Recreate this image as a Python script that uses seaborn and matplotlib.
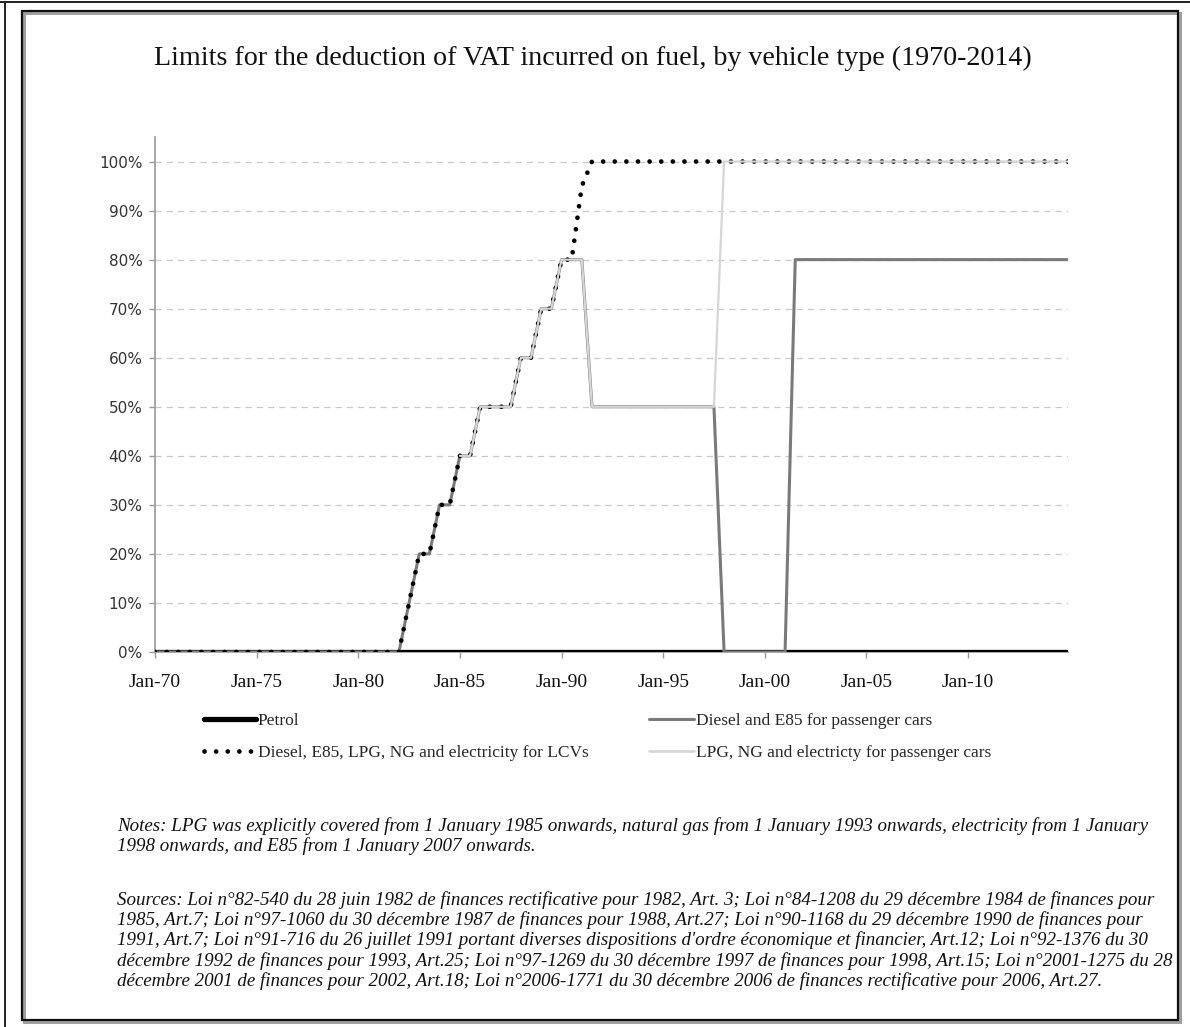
import matplotlib
matplotlib.use("Agg")
import matplotlib.pyplot as plt
import seaborn as sns
import pandas as pd
from matplotlib.ticker import FixedLocator, PercentFormatter
from matplotlib.lines import Line2D
from matplotlib.patches import Rectangle

# ---- data: semi-annual breakpoints (decimal years) and deductible share of VAT (%) ----
petrol_years = [1970.0, 2014.92]
petrol_share = [0, 0]

lcv_years = [1970.0, 1982.0, 1982.5, 1983.0, 1983.5, 1984.0, 1984.5, 1985.0, 1985.5,
             1986.0, 1987.5, 1988.0, 1988.5, 1989.0, 1989.5, 1990.0, 1990.5, 1991.0,
             1991.5, 2014.92]
lcv_share = [0, 0, 10, 20, 20, 30, 30, 40, 40,
             50, 50, 60, 60, 70, 70, 80, 80, 95,
             100, 100]

diesel_pc_years = [1970.0, 1982.0, 1982.5, 1983.0, 1983.5, 1984.0, 1984.5, 1985.0, 1985.5,
                   1986.0, 1987.5, 1988.0, 1988.5, 1989.0, 1989.5, 1990.0, 1991.0, 1991.5,
                   1997.5, 1998.0, 2001.0, 2001.5, 2014.92]
diesel_pc_share = [0, 0, 10, 20, 20, 30, 30, 40, 40,
                   50, 50, 60, 60, 70, 70, 80, 80, 50,
                   50, 0, 0, 80, 80]

lpg_pc_years = [1985.0, 1985.5, 1986.0, 1987.5, 1988.0, 1988.5, 1989.0, 1989.5, 1990.0,
                1991.0, 1991.5, 1997.5, 1998.0, 2014.92]
lpg_pc_share = [40, 40, 50, 50, 60, 60, 70, 70, 80,
                80, 50, 50, 100, 100]

x_tick_years = [1970, 1975, 1980, 1985, 1990, 1995, 2000, 2005, 2010]
x_tick_labels = ["Jan-70", "Jan-75", "Jan-80", "Jan-85", "Jan-90",
                 "Jan-95", "Jan-00", "Jan-05", "Jan-10"]
y_ticks = [0, 10, 20, 30, 40, 50, 60, 70, 80, 90, 100]

series_names = ["Petrol",
                "Diesel, E85, LPG, NG and electricity for LCVs",
                "Diesel and E85 for passenger cars",
                "LPG, NG and electricty for passenger cars"]

title = "Limits for the deduction of VAT incurred on fuel, by vehicle type (1970-2014)"

notes_lines = [
    "Notes: LPG was explicitly covered from 1 January 1985 onwards, natural gas from 1 January 1993 onwards, electricity from 1 January",
    "1998 onwards, and E85 from 1 January 2007 onwards.",
]
sources_lines = [
    "Sources: Loi n°82-540 du 28 juin 1982 de finances rectificative pour 1982, Art. 3; Loi n°84-1208 du 29 décembre 1984 de finances pour",
    "1985, Art.7; Loi n°97-1060 du 30 décembre 1987 de finances pour 1988, Art.27; Loi n°90-1168 du 29 décembre 1990 de finances pour",
    "1991, Art.7; Loi n°91-716 du 26 juillet 1991 portant diverses dispositions d'ordre économique et financier, Art.12; Loi n°92-1376 du 30",
    "décembre 1992 de finances pour 1993, Art.25; Loi n°97-1269 du 30 décembre 1997 de finances pour 1998, Art.15; Loi n°2001-1275 du 28",
    "décembre 2001 de finances pour 2002, Art.18; Loi n°2006-1771 du 30 décembre 2006 de finances rectificative pour 2006, Art.27.",
]

# ---- styling ----
sns.set_theme(style="white")
plt.rcParams["font.family"] = ["Liberation Serif", "DejaVu Serif"]

W, H = 1190, 1027
fig = plt.figure(figsize=(W / 100, H / 100), dpi=100)


def fx(px):
    return px / W


def fy(py):
    return 1 - py / H


ax = fig.add_axes([fx(155), fy(652), fx(1068) - fx(155), fy(137) - fy(652)])

BLACK = "#000000"
DARK_GREY = "#7a7a7a"
LIGHT_GREY = "#d6d6d6"
DOT_PATTERN = (0.01, 2.45)

petrol_df = pd.DataFrame({"year": petrol_years, "share": petrol_share})
diesel_df = pd.DataFrame({"year": diesel_pc_years, "share": diesel_pc_share})
lcv_df = pd.DataFrame({"year": lcv_years, "share": lcv_share})
lpg_df = pd.DataFrame({"year": lpg_pc_years, "share": lpg_pc_share})

sns.lineplot(data=petrol_df, x="year", y="share", ax=ax, color=BLACK, linewidth=3.8,
             estimator=None, sort=False, zorder=3, solid_capstyle="round")
sns.lineplot(data=diesel_df, x="year", y="share", ax=ax, color=DARK_GREY, linewidth=2.2,
             estimator=None, sort=False, zorder=4)
sns.lineplot(data=lcv_df, x="year", y="share", ax=ax, color=BLACK, linewidth=3.4,
             estimator=None, sort=False, zorder=5)
lcv_line = ax.lines[-1]
lcv_line.set_dashes(DOT_PATTERN)
lcv_line.set_dash_capstyle("round")
sns.lineplot(data=lpg_df, x="year", y="share", ax=ax, color=LIGHT_GREY, linewidth=1.6,
             estimator=None, sort=False, zorder=6)

ax.set_xlim(1970.0, 2014.92)
ax.set_ylim(0, 105)
ax.xaxis.set_major_locator(FixedLocator(x_tick_years))
ax.set_xticklabels(x_tick_labels)
ax.yaxis.set_major_locator(FixedLocator(y_ticks))
ax.yaxis.set_major_formatter(PercentFormatter(xmax=100, decimals=0))
ax.set_xlabel("")
ax.set_ylabel("")

for v in y_ticks[1:]:
    ax.axhline(v, color="#c9c9c9", linewidth=0.9, linestyle=(0, (5, 4)), zorder=1)

for side in ["top", "right"]:
    ax.spines[side].set_visible(False)
for side in ["left", "bottom"]:
    ax.spines[side].set_color("#9a9a9a")
    ax.spines[side].set_linewidth(1.2)

ax.tick_params(axis="y", which="major", left=True, length=4, width=1, color="#9a9a9a",
               direction="out", pad=5, labelsize=11, labelcolor="#333333")
ax.tick_params(axis="x", which="major", bottom=True, length=4, width=1, color="#9a9a9a",
               direction="out", pad=12, labelsize=14, labelcolor="#111111")
for lab in ax.get_yticklabels():
    lab.set_fontfamily(["DejaVu Sans"])

# legend: two columns built as two blocks
handles = [
    Line2D([], [], color=BLACK, linewidth=3.8, solid_capstyle="round"),
    Line2D([], [], color=BLACK, linewidth=3.4, dashes=DOT_PATTERN, dash_capstyle="round"),
    Line2D([], [], color=DARK_GREY, linewidth=2.2),
    Line2D([], [], color=LIGHT_GREY, linewidth=1.9),
]
leg_kw = dict(frameon=False, fontsize=12.5, borderpad=0, borderaxespad=0,
              handletextpad=0.1, labelspacing=0.9, loc="center left")
leg1 = fig.legend(handles[:2], series_names[:2], bbox_to_anchor=(fx(204), fy(737)),
                  handlelength=3.0, **leg_kw)
leg2 = fig.legend(handles[2:], series_names[2:], bbox_to_anchor=(fx(649), fy(737)),
                  handlelength=2.6, **leg_kw)

fig.text(fx(593), fy(58), title, ha="center", va="center", fontsize=20.2, color="#111111")

note_kw = dict(ha="left", va="center", fontsize=13.7, style="italic", color="#111111")
for i, line in enumerate(notes_lines):
    fig.text(fx(117), fy(826 + 20 * i), line, **note_kw)
for i, line in enumerate(sources_lines):
    fig.text(fx(117), fy(900 + 20.2 * i), line, **note_kw)

# page frame
fig.patches.append(Rectangle((fx(24), fy(1022)), fx(1180) - fx(24), fy(13) - fy(1022),
                             transform=fig.transFigure, fill=False, edgecolor="#a0a0a0",
                             linewidth=2.2, zorder=0))
fig.patches.append(Rectangle((fx(22), fy(1020)), fx(1178) - fx(22), fy(11) - fy(1020),
                             transform=fig.transFigure, fill=False, edgecolor="#111111",
                             linewidth=1.6, zorder=1))
fig.lines.append(Line2D([fx(5), fx(5)], [fy(2), fy(1027)], transform=fig.transFigure,
                        color="#222222", linewidth=1.4))
fig.lines.append(Line2D([fx(0), fx(1190)], [fy(2), fy(2)], transform=fig.transFigure,
                        color="#222222", linewidth=1.4))

fig.savefig("out.png", dpi=100)
